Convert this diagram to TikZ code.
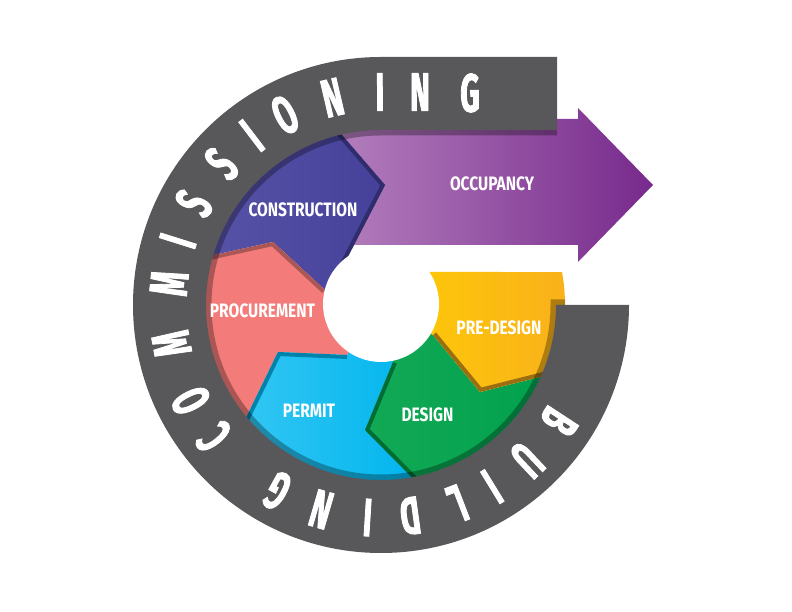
\documentclass[tikz,border=0pt]{standalone}
\usepackage{fontspec}
\newfontfamily\ringfont[FakeStretch=0.56,FakeBold=1.5]{Fira Sans}
\newfontfamily\labfont[FakeStretch=0.8]{Fira Sans}
\definecolor{cgray}{HTML}{58585A}
\definecolor{cind1}{HTML}{5753A7}
\definecolor{cind2}{HTML}{45419A}
\definecolor{csal}{HTML}{F37C7A}
\definecolor{ccy1}{HTML}{33C6F3}
\definecolor{ccy2}{HTML}{00B5EE}
\definecolor{cgr1}{HTML}{13A955}
\definecolor{cgr2}{HTML}{00A14E}
\definecolor{cye1}{HTML}{FFCC05}
\definecolor{cye2}{HTML}{F9B11B}
\definecolor{cpu1}{HTML}{B682BF}
\definecolor{cpu2}{HTML}{772A8C}
\begin{document}
\begin{tikzpicture}[x=1bp,y=1bp,
  ringl/.style={font=\ringfont\bfseries\fontsize{54}{54}\selectfont, text=white, inner sep=0pt},
  lab/.style={font=\labfont\bfseries\fontsize{19.5}{19.5}\selectfont, text=white, inner sep=0pt},
  leadedge/.style={line width=8bp, line join=round}]
\useasboundingbox (0,0) rectangle (792,612);
\begin{scope}[shift={(381,307)}]
\def\segP{(-60,186) -- (197,186) -- (197,197) -- (272,120) -- (197,43) -- (197,60) -- (-30,60) -- cycle}
\def\segI{(-30,8) -- (-56,15) -- (-108,63) -- (165:184) arc[start angle=165,end angle=104.5,radius=184] -- (4,120) -- (-40,35) -- cycle}
\def\segS{(-10,-20) -- (-34,-50) -- (-103,-47) -- (221:184) arc[start angle=221,end angle=165,radius=184] -- (-108,63) -- (-56,15) -- (-30,8) -- cycle}
\def\segC{(5,-20) -- (12,-57) -- (-16,-125) -- (282:184) arc[start angle=282,end angle=221,radius=184] -- (-103,-47) -- (-34,-50) -- (-10,-20) -- cycle}
\def\segG{(20,-10) -- (52,-30) -- (99,-87) -- (338:184) arc[start angle=338,end angle=282,radius=184] -- (-16,-125) -- (12,-57) -- (5,-20) -- cycle}
\def\segY{(0,33) -- (10.33:184) arc[start angle=10.33,end angle=-22,radius=184] -- (99,-87) -- (52,-30) -- (20,-10) -- (0,0) -- cycle}
% segment fills
\shade[left color=cpu1, right color=cpu2] \segP;
\shade[left color=cind1, right color=cind2] \segI;
\fill[csal] \segS;
\shade[left color=ccy1, right color=ccy2] \segC;
\shade[left color=cgr1, right color=cgr2] \segG;
\shade[left color=cye1, right color=cye2] \segY;
% leading edges
\begin{scope}\clip \segI;
\draw[leadedge, cind2!70!black] (-40,35) -- (4,120) -- (104.5:184);
\end{scope}
\begin{scope}\clip \segS;
\draw[leadedge, csal!70!black] (-56,15) -- (-108,63) -- (165:184);
\end{scope}
\begin{scope}\clip \segC;
\draw[leadedge, ccy2!72!black] (-34,-50) -- (-103,-47) -- (221:184);
\end{scope}
\begin{scope}\clip \segG;
\draw[leadedge, cgr2!68!black] (12,-57) -- (-16,-125) -- (282:184);
\end{scope}
\begin{scope}\clip \segY;
\draw[leadedge, cye2!62!black] (52,-30) -- (99,-87) -- (338:184);
\end{scope}
% hole
\fill[white] (0,1) circle[radius=58];
% shadow of the ring
\draw[black, opacity=0.3, line width=11bp] (176,175) -- (0,175) arc[start angle=90,end angle=360,radius=175] -- (184,0);
% gray ring
\fill[cgray] (248,0) arc[start angle=0,end angle=-270,radius=248] -- (176,248) -- (176,175) -- (0,175) arc[start angle=90,end angle=360,radius=175] -- cycle;
% ring letters
\foreach \a/\ch [count=\i] in {-33.2/B,-46.7/U,-58.5/I,-68.9/L,-82.1/D,-93.6/I,-106.3/N,-119.1/G,-141.7/C,-153.3/O,-169.5/M,-185.8/M,-197.5/I,-208.5/S,-221.5/S,-232.7/I,-243.2/O,-256.8/N,-269.7/I}
  \node[ringl, rotate=\a-90] (r\i) at (\a:213) {\ch};
\node[ringl] (rN) at (39,213) {N};
\node[ringl] (rG) at (89,212) {G};
% labels
\node[lab] (lcon) at (-78,95.5) {CONSTRUCTION};
\node[lab] (locc) at (111,121) {OCCUPANCY};
\node[lab] (lpro) at (-118.5,-5.5) {PROCUREMENT};
\node[lab] (lper) at (-72,-105.5) {PERMIT};
\node[lab] (ldes) at (46.5,-109.5) {DESIGN};
\node[lab] (lpre) at (118,-22.5) {PRE-DESIGN};
\end{scope}
\end{tikzpicture}
\end{document}
